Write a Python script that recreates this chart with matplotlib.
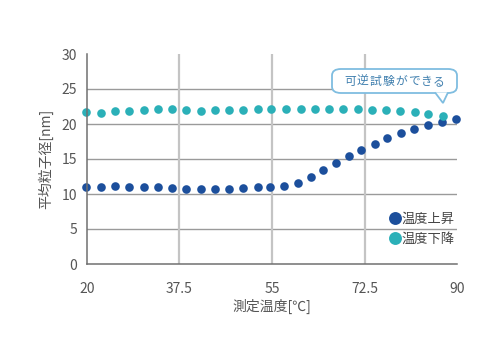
import matplotlib
matplotlib.use("Agg")
import matplotlib.pyplot as plt
from matplotlib.patches import FancyBboxPatch, Polygon

plt.rcParams['font.family'] = ['Noto Sans CJK JP', 'DejaVu Sans']

# Data
up_temp = [19.9, 22.6, 25.3, 28.0, 30.7, 33.4, 36.1, 38.8, 41.5, 44.2, 46.9, 49.6, 52.3,
           54.6, 57.3, 60.0, 62.4, 64.7, 67.1, 69.5, 71.8, 74.4, 76.8, 79.4, 81.9, 84.5, 87.1, 89.8]
up_size = [10.95, 11.05, 11.14, 11.05, 11.05, 11.05, 10.81, 10.67, 10.71, 10.67, 10.76, 10.9, 10.95,
           10.95, 11.1, 11.62, 12.48, 13.43, 14.38, 15.38, 16.24, 17.19, 17.95, 18.67, 19.24, 19.81, 20.33, 20.67]
down_temp = [19.9, 22.6, 25.3, 28.0, 30.7, 33.4, 36.1, 38.8, 41.5, 44.2, 46.9, 49.6, 52.3,
             54.9, 57.6, 60.4, 63.1, 65.8, 68.5, 71.2, 73.9, 76.6, 79.3, 82.0, 84.6, 87.3]
down_size = [21.76, 21.62, 21.86, 21.9, 22.0, 22.1, 22.14, 21.95, 21.9, 21.95, 22.0, 22.05, 22.14,
             22.14, 22.14, 22.14, 22.14, 22.14, 22.14, 22.14, 22.05, 21.95, 21.86, 21.76, 21.48, 21.14]
x_ticks = [20, 37.5, 55, 72.5, 90]
x_tick_labels = ["20", "37.5", "55", "72.5", "90"]
y_ticks = [0, 5, 10, 15, 20, 25, 30]
series_names = ["温度上昇", "温度下降"]
callout_text = "可逆試験ができる"

c_up = "#1c4f9c"
c_down = "#2bb0b8"

W, H = 500, 357
fig = plt.figure(figsize=(W / 100, H / 100), dpi=100)
ax = fig.add_axes([87 / W, 1 - 264 / H, 370 / W, 210 / H])
ax.set_xlim(20, 90)
ax.set_ylim(0, 30)

for y in y_ticks[1:-1]:
    ax.axhline(y, color="#9a9a9a", lw=1.0, zorder=1)
for x in x_ticks[1:-1]:
    ax.axvline(x, color="#c4c4c4", lw=1.6, zorder=1)

ax.plot(up_temp, up_size, 'o', color=c_up, ms=6.2, mew=0, clip_on=False, zorder=3, label=series_names[0])
ax.plot(down_temp, down_size, 'o', color=c_down, ms=6.2, mew=0, clip_on=False, zorder=3, label=series_names[1])

for s in ["top", "right"]:
    ax.spines[s].set_visible(False)
for s in ["left", "bottom"]:
    ax.spines[s].set_color("#707070")
    ax.spines[s].set_linewidth(1.1)
ax.spines["left"].set_zorder(4)

ax.set_xticks(x_ticks)
ax.set_xticklabels(x_tick_labels)
ax.set_yticks(y_ticks)
ax.tick_params(axis="x", length=0, pad=13, labelsize=10, labelcolor="#555555")
ax.tick_params(axis="y", length=0, pad=7, labelsize=10, labelcolor="#555555")
for lbl in ax.get_yticklabels():
    lbl.set_va("center_baseline")

ax.set_xlabel("測定温度[℃]", fontsize=10, color="#555555", labelpad=2)
ax.set_ylabel("平均粒子径[nm]", fontsize=10, color="#555555", labelpad=6)

leg = ax.legend(loc="center left", bbox_to_anchor=(384 / W, 1 - 229 / H),
                bbox_transform=fig.transFigure, frameon=False, markerscale=1.5,
                handlelength=0.6, handletextpad=0.25, labelspacing=0.55,
                fontsize=9.5, borderpad=0)
for t in leg.get_texts():
    t.set_color("#444444")

# Callout
bx0, bx1, by0, by1 = 332, 457, 69, 93
box = FancyBboxPatch((bx0 / W, 1 - by1 / H), (bx1 - bx0) / W, (by1 - by0) / H,
                     boxstyle="round,pad=0,rounding_size=0.018",
                     transform=fig.transFigure, facecolor="white",
                     edgecolor="#7fbde0", lw=1.3, zorder=10)
fig.add_artist(box)
tail = Polygon([(435 / W, 1 - (by1 - 0.6) / H), (443 / W, 1 - 103 / H), (448 / W, 1 - (by1 - 0.6) / H)],
               closed=False, transform=fig.transFigure, facecolor="white",
               edgecolor="#7fbde0", lw=1.3, zorder=11)
fig.add_artist(tail)
n = len(callout_text)
step = 12.7
cx0 = (bx0 + bx1) / 2 - step * (n - 1) / 2
for i, ch in enumerate(callout_text):
    fig.text((cx0 + i * step) / W, 1 - 81.5 / H, ch, ha="center", va="center",
             fontsize=8.5, color="#3f7fae", zorder=12)

fig.savefig("out.png", dpi=100)
